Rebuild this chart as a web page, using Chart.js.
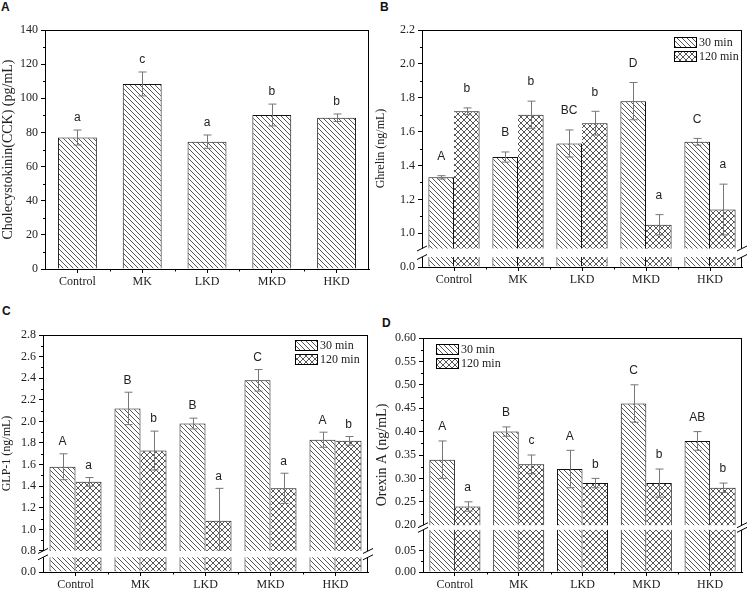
<!DOCTYPE html>
<html>
<head>
<meta charset="utf-8">
<script src="https://cdn.jsdelivr.net/npm/chart.js@4.4.1/dist/chart.umd.min.js"></script>
<style>
  body { margin: 0; background: #fff; width: 748px; height: 597px; position: relative; overflow: hidden; }
  .panel { position: absolute; }
  .tag { position: absolute; font: bold 12px 'Liberation Sans', Arial, sans-serif; color: #111; }
</style>
</head>
<body>
<div class="tag" style="left:1px;top:0px">A</div>
<div class="tag" style="left:380px;top:0px">B</div>
<div class="tag" style="left:2px;top:304px">C</div>
<div class="tag" style="left:382px;top:316px">D</div>
<div class="panel" style="left:0;top:0;width:374px;height:290px"><canvas id="chartA"></canvas></div>
<div class="panel" style="left:374px;top:0;width:374px;height:290px"><canvas id="chartB"></canvas></div>
<div class="panel" style="left:0;top:290px;width:374px;height:307px"><canvas id="chartC"></canvas></div>
<div class="panel" style="left:374px;top:290px;width:374px;height:307px"><canvas id="chartD"></canvas></div>
<script>
const groups = ['Control', 'MK', 'LKD', 'MKD', 'HKD'];
const seriesNames = ['30 min', '120 min'];

// A - CCK
const cck = [77, 108.4, 74.6, 90.2, 88.6];
const cckErr = [4.4, 7, 3.9, 6.4, 2.2];
const cckLetters = ['a', 'c', 'a', 'b', 'b'];
const cckTicks = [0, 20, 40, 60, 80, 100, 120, 140];

// B - Ghrelin
const ghrelin30 = [1.33, 1.45, 1.53, 1.78, 1.54];
const ghrelin30Err = [0.01, 0.03, 0.08, 0.11, 0.02];
const ghrelin120 = [1.72, 1.70, 1.65, 1.05, 1.14];
const ghrelin120Err = [0.02, 0.08, 0.07, 0.06, 0.15];
const ghrelin30Letters = ['A', 'B', 'BC', 'D', 'C'];
const ghrelin120Letters = ['b', 'b', 'b', 'a', 'a'];
const ghrelinTicks = [0, 1.0, 1.2, 1.4, 1.6, 1.8, 2.0, 2.2];

// C - GLP-1
const glp30 = [1.58, 2.12, 1.98, 2.38, 1.83];
const glp30Err = [0.12, 0.15, 0.05, 0.10, 0.07];
const glp120 = [1.44, 1.73, 1.08, 1.38, 1.82];
const glp120Err = [0.04, 0.18, 0.30, 0.14, 0.04];
const glp30Letters = ['A', 'B', 'B', 'C', 'A'];
const glp120Letters = ['a', 'b', 'a', 'a', 'b'];
const glpTicks = [0, 0.8, 1.0, 1.2, 1.4, 1.6, 1.8, 2.0, 2.2, 2.4, 2.6, 2.8];

// D - Orexin A
const orexin30 = [0.34, 0.40, 0.32, 0.46, 0.38];
const orexin30Err = [0.04, 0.01, 0.04, 0.04, 0.02];
const orexin120 = [0.24, 0.33, 0.29, 0.29, 0.28];
const orexin120Err = [0.01, 0.02, 0.01, 0.03, 0.01];
const orexin30Letters = ['A', 'B', 'A', 'C', 'AB'];
const orexin120Letters = ['a', 'c', 'b', 'b', 'b'];
const orexinTicks = [0, 0.05, 0.20, 0.25, 0.30, 0.35, 0.40, 0.45, 0.50, 0.55, 0.60];

const serif = 'Liberation Serif, Times New Roman, serif';
const sans = 'Liberation Sans, Arial, sans-serif';

// linear scale with a gap between lowMax and highMin
class BrokenScale extends Chart.LinearScale {
  getPixelForValue(v) {
    if (v === null || v === undefined || isNaN(v)) return NaN;
    const b = this.options.brk;
    let d;
    if (v <= b.lowMax) d = v / b.lowMax * b.lowFrac;
    else if (v >= b.highMin) d = b.highFrac + (v - b.highMin) / (this.max - b.highMin) * (1 - b.highFrac);
    else d = b.lowFrac + (v - b.lowMax) / (b.highMin - b.lowMax) * (b.highFrac - b.lowFrac);
    return this.getPixelForDecimal(d);
  }
  getValueForPixel(p) {
    const b = this.options.brk, d = this.getDecimalForPixel(p);
    if (d <= b.lowFrac) return d / b.lowFrac * b.lowMax;
    if (d >= b.highFrac) return b.highMin + (d - b.highFrac) / (1 - b.highFrac) * (this.max - b.highMin);
    return b.lowMax + (d - b.lowFrac) / (b.highFrac - b.lowFrac) * (b.highMin - b.lowMax);
  }
}
BrokenScale.id = 'broken';
BrokenScale.defaults = Chart.LinearScale.defaults;
Chart.register(BrokenScale);

function hatch(ctx, cross) {
  const s = cross ? 6 : 5;
  const c = document.createElement('canvas');
  c.width = s; c.height = s;
  const g = c.getContext('2d');
  g.fillStyle = '#fff';
  g.fillRect(0, 0, s, s);
  g.strokeStyle = '#444';
  g.lineWidth = 0.9;
  g.beginPath();
  for (const k of [-s, 0, s]) { g.moveTo(k, 0); g.lineTo(k + s, s); }
  if (cross) for (const k of [-s, 0, s]) { g.moveTo(k + s, 0); g.lineTo(k, s); }
  g.stroke();
  return ctx.createPattern(c, 'repeat');
}

const decor = {
  id: 'decor',
  afterDatasetsDraw(chart, args, o) {
    const ctx = chart.ctx, a = chart.chartArea, x = chart.scales.x, y = chart.scales.y;
    ctx.save();
    // error bars
    ctx.strokeStyle = '#777';
    ctx.lineWidth = 1;
    chart.data.datasets.forEach((ds, di) => {
      chart.getDatasetMeta(di).data.forEach((bar, i) => {
        const v = ds.data[i], e = ds.err[i];
        const bx = Math.round(bar.x) + 0.5;
        const yt = y.getPixelForValue(v + e), yb = y.getPixelForValue(v - e);
        ctx.beginPath();
        ctx.moveTo(bx, yt); ctx.lineTo(bx, yb);
        ctx.moveTo(bx - 4, yt); ctx.lineTo(bx + 4, yt);
        ctx.moveTo(bx - 4, yb); ctx.lineTo(bx + 4, yb);
        ctx.stroke();
      });
    });
    // frame
    ctx.strokeStyle = '#000';
    ctx.strokeRect(Math.round(a.left) + 0.5, Math.round(a.top) + 0.5, Math.round(a.width) - 1, Math.round(a.height));
    // minor ticks
    ctx.beginPath();
    const tv = y.ticks.map(t => t.value);
    const step = tv[tv.length - 1] - tv[tv.length - 2];
    for (let i = 0; i < tv.length - 1; i++) {
      if (Math.abs(tv[i + 1] - tv[i] - step) < 1e-9) {
        const py = Math.round(y.getPixelForValue((tv[i] + tv[i + 1]) / 2)) + 0.5;
        ctx.moveTo(a.left - 2, py); ctx.lineTo(a.left, py);
      }
    }
    for (let i = 0; i < groups.length - 1; i++) {
      const px = Math.round((x.getPixelForValue(i) + x.getPixelForValue(i + 1)) / 2) + 0.5;
      ctx.moveTo(px, a.bottom); ctx.lineTo(px, a.bottom + 2.5);
    }
    ctx.stroke();
    // axis break
    const b = y.options.brk;
    if (chart.config.options.scales.y.type === 'broken') {
      const yHi = y.getPixelForValue(b.highMin), yLo = y.getPixelForValue(b.lowMax);
      ctx.fillStyle = '#fff';
      ctx.fillRect(a.left - 5, yHi, a.width + 10, yLo - yHi);
      ctx.strokeStyle = '#000';
      ctx.beginPath();
      for (const ax of [a.left, a.right]) {
        for (const yy of [yHi, yLo]) {
          ctx.moveTo(ax - 5, yy + 2.5); ctx.lineTo(ax + 5, yy - 2.5);
        }
      }
      ctx.stroke();
    }
    // letters
    ctx.fillStyle = '#222';
    ctx.font = '12px ' + sans;
    ctx.textAlign = 'center';
    ctx.textBaseline = 'middle';
    chart.data.datasets.forEach((ds, di) => {
      chart.getDatasetMeta(di).data.forEach((bar, i) => {
        ctx.fillText(ds.letters[i], bar.x, y.getPixelForValue(ds.data[i] + ds.err[i]) - o.gap);
      });
    });
    // legend
    if (o.legend) {
      const L = o.legend;
      const lx = L.right !== undefined ? a.right - L.right : a.left + L.left;
      let ly = a.top + L.top;
      ctx.font = '12px ' + serif;
      ctx.textAlign = 'left';
      chart.data.datasets.forEach(ds => {
        ctx.fillStyle = ds.backgroundColor;
        ctx.fillRect(lx, ly, 22, 10);
        ctx.strokeStyle = '#000';
        ctx.strokeRect(Math.round(lx) + 0.5, Math.round(ly) + 0.5, 22, 10);
        ctx.fillStyle = '#222';
        ctx.fillText(ds.label, lx + 25, ly + 5.5);
        ly += 14;
      });
    }
    ctx.restore();
  }
};

function panel(id, cfg) {
  const canvas = document.getElementById(id);
  const ctx = canvas.getContext('2d');
  const datasets = cfg.series.map((s, k) => ({
    label: s.label,
    data: s.data,
    err: s.err,
    letters: s.letters,
    backgroundColor: hatch(ctx, k === 1),
    borderColor: '#111',
    borderWidth: k === 1 ? { top: 1, right: 1, left: 0, bottom: 0 } : { top: 1, right: 1, left: 1, bottom: 0 },
    categoryPercentage: cfg.catPct,
    barPercentage: 1
  }));
  new Chart(canvas, {
    type: 'bar',
    data: { labels: groups, datasets: datasets },
    options: {
      responsive: true,
      maintainAspectRatio: false,
      animation: false,
      layout: { padding: cfg.pad },
      plugins: {
        legend: { display: false },
        tooltip: { enabled: false },
        decor: { gap: cfg.gap, legend: cfg.legend }
      },
      scales: {
        x: {
          offset: true,
          afterFit: s => { s.height = cfg.xh; },
          ticks: { font: { family: serif, size: 12 }, color: '#222', padding: 2, maxRotation: 0, autoSkip: false },
          grid: { offset: false, drawOnChartArea: false, tickLength: 4, tickColor: '#000' },
          border: { color: '#000' }
        },
        y: {
          type: cfg.brk ? 'broken' : 'linear',
          brk: cfg.brk,
          min: 0,
          max: cfg.ticks[cfg.ticks.length - 1],
          afterBuildTicks: s => { s.ticks = cfg.ticks.map(v => ({ value: v })); },
          afterFit: s => { s.width = cfg.yw; },
          ticks: { callback: v => v.toFixed(cfg.dec), font: { family: serif, size: 12 }, color: '#222', padding: 3 },
          grid: { drawOnChartArea: false, tickLength: 4, tickColor: '#000' },
          border: { color: '#000' },
          title: { display: true, text: cfg.title, font: { family: serif, size: cfg.titleSize }, color: '#222', padding: { top: 0, bottom: 0 } }
        }
      }
    },
    plugins: [decor]
  });
}

panel('chartA', {
  series: [{ label: 'CCK', data: cck, err: cckErr, letters: cckLetters }],
  catPct: 0.6, ticks: cckTicks, dec: 0, title: 'Cholecystokinin(CCK) (pg/mL)', titleSize: 14,
  pad: { top: 30, right: 5, left: 0, bottom: 0 }, xh: 21, yw: 45, gap: 12
});
panel('chartB', {
  series: [
    { label: seriesNames[0], data: ghrelin30, err: ghrelin30Err, letters: ghrelin30Letters },
    { label: seriesNames[1], data: ghrelin120, err: ghrelin120Err, letters: ghrelin120Letters }
  ],
  catPct: 0.8, ticks: ghrelinTicks, dec: 1, title: 'Ghrelin (ng/mL)', titleSize: 12,
  brk: { lowMax: 0.1, lowFrac: 0.042, highMin: 0.91, highFrac: 0.078 },
  pad: { top: 30, right: 6, left: 0, bottom: 0 }, xh: 23, yw: 48, gap: 19,
  legend: { right: 68, top: 7 }
});
panel('chartC', {
  series: [
    { label: seriesNames[0], data: glp30, err: glp30Err, letters: glp30Letters },
    { label: seriesNames[1], data: glp120, err: glp120Err, letters: glp120Letters }
  ],
  catPct: 0.8, ticks: glpTicks, dec: 1, title: 'GLP-1 (ng/mL)', titleSize: 12,
  brk: { lowMax: 0.1, lowFrac: 0.062, highMin: 0.8, highFrac: 0.0887 },
  pad: { top: 45, right: 6, left: 0, bottom: 0 }, xh: 25, yw: 43, gap: 12,
  legend: { right: 73, top: 5 }
});
panel('chartD', {
  series: [
    { label: seriesNames[0], data: orexin30, err: orexin30Err, letters: orexin30Letters },
    { label: seriesNames[1], data: orexin120, err: orexin120Err, letters: orexin120Letters }
  ],
  catPct: 0.8, ticks: orexinTicks, dec: 2, title: 'Orexin A (ng/mL)', titleSize: 14,
  brk: { lowMax: 0.1, lowFrac: 0.18, highMin: 0.2, highFrac: 0.2 },
  pad: { top: 48, right: 6, left: 0, bottom: 0 }, xh: 25, yw: 49, gap: 14,
  legend: { left: 13, top: 6 }
});
</script>
</body>
</html>
